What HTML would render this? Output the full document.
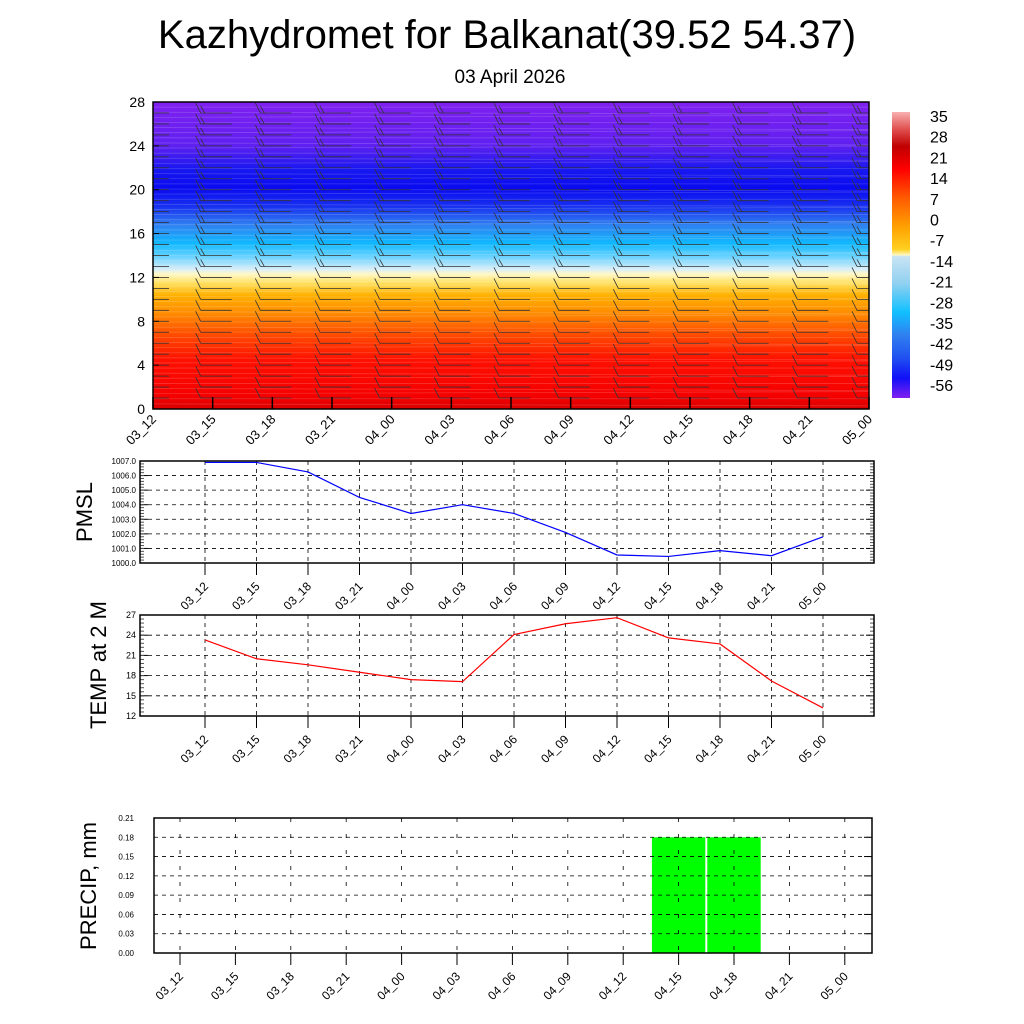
<!DOCTYPE html>
<html><head><meta charset="utf-8"><style>
html,body{margin:0;padding:0;background:#fff;}
svg{display:block;font-family:"Liberation Sans",sans-serif;}
</style></head><body>
<svg id="s" width="1024" height="1024" viewBox="0 0 1024 1024">
<defs>
<clipPath id="cp"><rect x="153" y="102" width="716" height="307"/></clipPath>
<linearGradient id="tg" x1="0" y1="1" x2="0" y2="0">
<stop offset="0" stop-color="#d80000"/><stop offset="0.04" stop-color="#f40000"/>
<stop offset="0.16" stop-color="#ff1000"/><stop offset="0.24" stop-color="#ff4a00"/>
<stop offset="0.31" stop-color="#ff8a00"/><stop offset="0.37" stop-color="#ffb000"/>
<stop offset="0.41" stop-color="#ffe060"/><stop offset="0.44" stop-color="#fff8c8"/>
<stop offset="0.455" stop-color="#d8eef8"/><stop offset="0.50" stop-color="#60d0ff"/>
<stop offset="0.54" stop-color="#10b8ff"/><stop offset="0.60" stop-color="#3080f0"/>
<stop offset="0.66" stop-color="#1830f0"/><stop offset="0.72" stop-color="#0a0af0"/>
<stop offset="0.78" stop-color="#1818f0"/><stop offset="0.86" stop-color="#6020f0"/>
<stop offset="1" stop-color="#8020f0"/>
</linearGradient>
<linearGradient id="cb" x1="0" y1="0" x2="0" y2="1">
<stop offset="0" stop-color="#f8b0b0"/><stop offset="0.06" stop-color="#e05050"/>
<stop offset="0.12" stop-color="#c00000"/><stop offset="0.2" stop-color="#ff0000"/>
<stop offset="0.3" stop-color="#ff5a00"/><stop offset="0.4" stop-color="#ffa000"/>
<stop offset="0.48" stop-color="#ffd020"/><stop offset="0.5" stop-color="#fff8c0"/>
<stop offset="0.505" stop-color="#c8e4f4"/><stop offset="0.6" stop-color="#90d0f0"/>
<stop offset="0.7" stop-color="#10c0ff"/><stop offset="0.78" stop-color="#3080f0"/>
<stop offset="0.86" stop-color="#2050f0"/><stop offset="0.93" stop-color="#1010f8"/>
<stop offset="1" stop-color="#8020f0"/>
</linearGradient>
</defs>
<text x="507" y="48" font-size="40" text-anchor="middle">Kazhydromet for Balkanat(39.52 54.37)</text>
<text x="510" y="83" font-size="19" text-anchor="middle">03 April 2026</text>
<g id="top"></g>
<g id="pm"></g>
<g id="tp"></g>
<g id="pr"></g>
</svg>
<script>
const times=["03_12","03_15","03_18","03_21","04_00","04_03","04_06","04_09","04_12","04_15","04_18","04_21","05_00"];
const heightTicks=[0,4,8,12,16,20,24,28];
const colorbarLabels=["35","28","21","14","7","0","-7","-14","-21","-28","-35","-42","-49","-56"];
const pmslValues=[1006.9,1006.9,1006.25,1004.5,1003.4,1004.0,1003.4,1002.1,1000.55,1000.45,1000.85,1000.5,1001.8];
const pmslTicks=[1000,1001,1002,1003,1004,1005,1006,1007];
const tempValues=[23.3,20.5,19.6,18.5,17.4,17.1,24.1,25.7,26.6,23.6,22.7,17.2,13.2];
const tempTicks=[12,15,18,21,24,27];
const precipValues=[0,0,0,0,0,0,0,0,0,0.18,0.18,0,0];
const precipTicks=[0,0.03,0.06,0.09,0.12,0.15,0.18,0.21];
const NS="http://www.w3.org/2000/svg";
function mk(p,t,a){const e=document.createElementNS(NS,t);for(const k in a)e.setAttribute(k,a[k]);p.appendChild(e);return e;}
function xlabels(g,xs,yb,fs){
  times.forEach((t,i)=>{const x=xs(i);
    const tx=mk(g,'text',{x:x+4,y:yb,'font-size':fs,'text-anchor':'end',transform:`rotate(-45 ${x+4} ${yb})`});
    tx.textContent=t;
    
    });
}
(function(){
  const g=document.getElementById('top');
  const L=153,R=869,T=102,B=409;
  const xs=i=>L+i*(R-L)/12, ys=v=>B-v*(B-T)/28;
  const r=mk(g,'rect',{x:L,y:T,width:R-L,height:B-T,fill:'url(#tg)'});
  
  
  for(let k=0;k<60;k++){const y=T+k*(B-T)/60;mk(g,'line',{x1:L,x2:R,y1:y,y2:y+((k%3)-1)*2,stroke:'#fff',"stroke-opacity":0.18,"stroke-width":0.8});}
  const wb=mk(g,'g',{stroke:'#333','stroke-width':0.8,fill:'none','clip-path':'url(#cp)'});
  
  
  for(let i=0;i<13;i++){for(let lv=1;lv<28;lv++){
    const cx=xs(i)+(i==0?0:3),y=ys(lv);
    const x0=i==0?L:cx-15,x1=cx+16;
    mk(wb,'line',{x1:x0,y1:y,x2:x1,y2:y});
    if(i>0){mk(wb,'line',{x1:x0,y1:y,x2:x0-5,y2:y-10});
      if(lv>12)mk(wb,'line',{x1:x0+4,y1:y,x2:x0,y2:y-7});}
  }}
  mk(g,'rect',{x:L,y:T,width:R-L,height:B-T,fill:'none',stroke:'#000','stroke-width':1.5});
  heightTicks.forEach(v=>{const y=ys(v);mk(g,'line',{x1:L,x2:L+6,y1:y,y2:y,stroke:'#000'});
    const t=mk(g,'text',{x:L-8,y:y+5,'font-size':14,'text-anchor':'end'});t.textContent=v;
    
    });
  times.forEach((t,i)=>mk(g,'line',{x1:xs(i),x2:xs(i),y1:B,y2:B-12,stroke:'#000','stroke-width':1.5}));
  xlabels(g,xs,420,13);
  const c=mk(g,'rect',{x:892,y:112,width:18,height:286,fill:'url(#cb)'});
  
  
  colorbarLabels.forEach((l,k)=>{const t=mk(g,'text',{x:930,y:122+k*20.7,'font-size':16});t.textContent=l;
    
    });
})();
function panel(id,T,B,ticks,vals,color,title,ty,fmt,fs){
  const g=document.getElementById(id);
  const L=140,R=874,x0=205,dx=51.5;
  const xs=i=>x0+i*dx;
  const lo=ticks[0],hi=ticks[ticks.length-1];
  const ys=v=>B-(v-lo)/(hi-lo)*(B-T);
  ticks.forEach(v=>{const y=ys(v);
    mk(g,'line',{x1:L,x2:R,y1:y,y2:y,stroke:'#000','stroke-dasharray':'4 4','stroke-width':0.8});
    mk(g,'line',{x1:L,x2:L+8,y1:y,y2:y,stroke:'#000'});mk(g,'line',{x1:R-8,x2:R,y1:y,y2:y,stroke:'#000'});
    const t=mk(g,'text',{x:L-4,y:y+3,'font-size':fs,'text-anchor':'end'});t.textContent=fmt(v);
    
    });
  for(let k=0;k<(ticks.length-1)*5;k++){const y=B-k*(B-T)/((ticks.length-1)*5);
    mk(g,'line',{x1:L,x2:L+4,y1:y,y2:y,stroke:'#555'});mk(g,'line',{x1:R-4,x2:R,y1:y,y2:y,stroke:'#555'});}
  times.forEach((t,i)=>{mk(g,'line',{x1:xs(i),x2:xs(i),y1:T,y2:B,stroke:'#000','stroke-dasharray':'4 4','stroke-width':0.8});
    mk(g,'line',{x1:xs(i),x2:xs(i),y1:B,y2:B+12,stroke:'#000'});});
  mk(g,'rect',{x:L,y:T,width:R-L,height:B-T,fill:'none',stroke:'#000','stroke-width':1.5});
  const p=mk(g,'polyline',{points:vals.map((v,i)=>xs(i)+','+ys(v)).join(' '),fill:'none',stroke:color,'stroke-width':1.2});
  
  
  xlabels(g,xs,B+24,12);
  const tt=mk(g,'text',{x:0,y:0,'font-size':22,'text-anchor':'middle',transform:`translate(${ty[0]} ${ty[1]}) rotate(-90)`});tt.textContent=title;
  
  
}
panel('pm',461,563,pmslTicks,pmslValues,'#0000ff','PMSL',[92,512],v=>v.toFixed(1),8);
panel('tp',615,716,tempTicks,tempValues,'#ff0000','TEMP at 2 M',[106,665],v=>v,9);
(function(){
  const g=document.getElementById('pr');
  const L=154,R=872,T=818,B=953,x0=180,dx=55.4;
  const xs=i=>x0+i*dx, ys=v=>B-v/0.21*(B-T);
  precipValues.forEach((v,i)=>{if(v>0){const b=mk(g,'rect',{x:xs(i)-dx/2+1,y:ys(v),width:dx-2,height:B-ys(v),fill:'#00ff00'});
    
    }});
  precipTicks.forEach(v=>{const y=ys(v);
    mk(g,'line',{x1:L,x2:R,y1:y,y2:y,stroke:'#000','stroke-dasharray':'4 4','stroke-width':0.8});
    mk(g,'line',{x1:R-8,x2:R,y1:y,y2:y,stroke:'#000'});
    const t=mk(g,'text',{x:L-20,y:y+3,'font-size':8,'text-anchor':'end'});t.textContent=v.toFixed(2);
    
    });
  times.forEach((t,i)=>{mk(g,'line',{x1:xs(i),x2:xs(i),y1:T,y2:B,stroke:'#000','stroke-dasharray':'4 12','stroke-width':0.8});
    mk(g,'line',{x1:xs(i),x2:xs(i),y1:B,y2:B+12,stroke:'#000'});});
  mk(g,'rect',{x:L,y:T,width:R-L,height:B-T,fill:'none',stroke:'#000','stroke-width':1.5});
  xlabels(g,xs,B+24,12);
  const tt=mk(g,'text',{x:0,y:0,'font-size':22,'text-anchor':'middle',transform:'translate(96 886) rotate(-90)'});tt.textContent='PRECIP, mm';
  
  
})();
</script>
</body></html>
